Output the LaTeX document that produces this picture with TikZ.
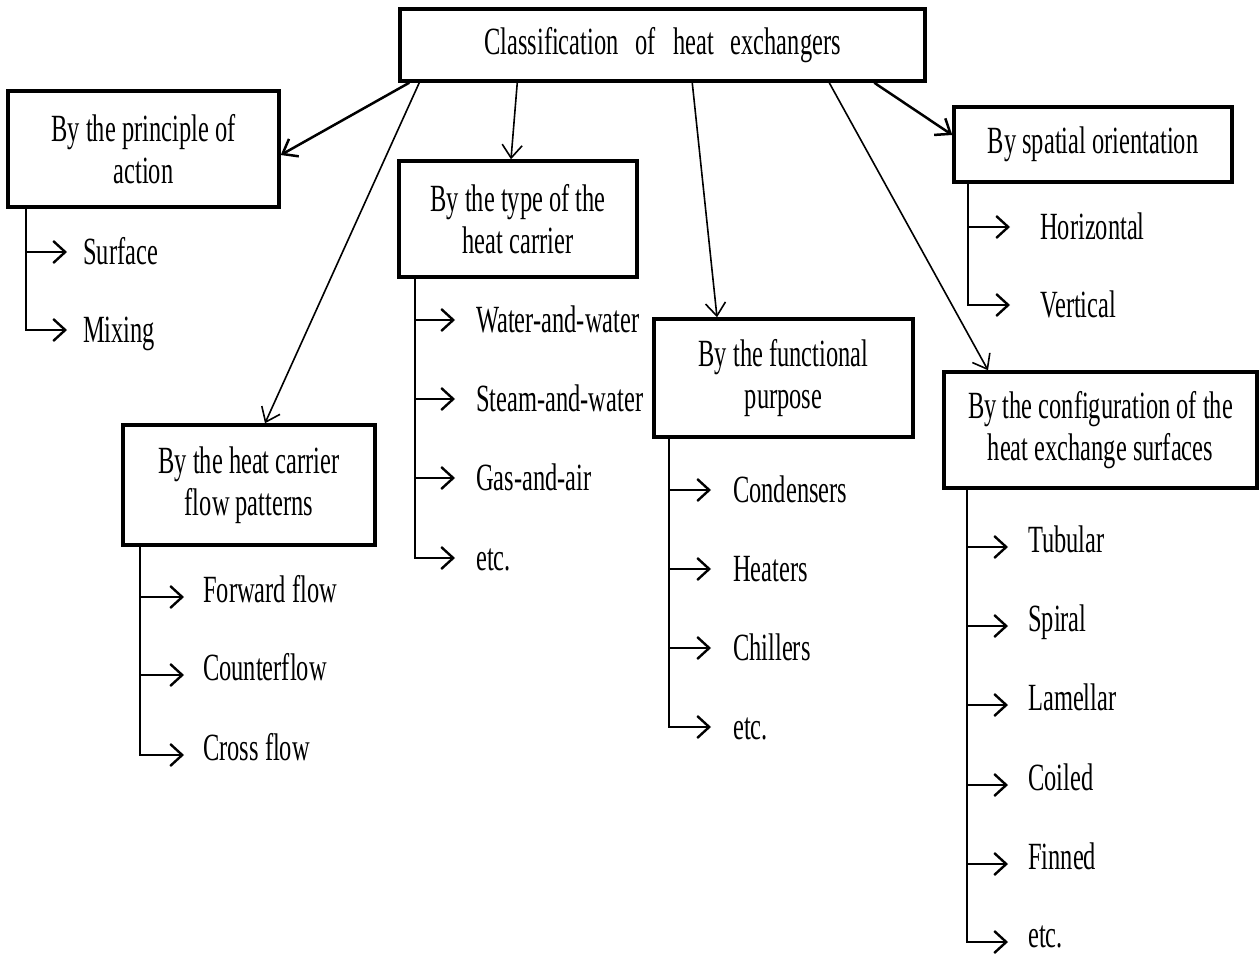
\documentclass[tikz,border=0pt]{standalone}
\usepackage{fontspec}
\setmainfont{Liberation Serif}[FakeStretch=0.635]
\usetikzlibrary{arrows.meta,calc}
\begin{document}
\begin{tikzpicture}[x=1pt,y=-1pt,
  box/.style={draw, line width=3.5pt, align=center, inner sep=0pt,
    font=\fontsize{38.5}{42}\selectfont},
  item/.style={anchor=west, inner sep=0pt, text height=25pt, text depth=0pt,
    font=\fontsize{38.5}{42}\selectfont},
  lowitem/.style={item, text height=11pt},
  conn/.style={line width=1.6pt, -{Straight Barb[length=13pt,width=20pt,line width=1.6pt]}},
  thickconn/.style={line width=2.5pt, -{Straight Barb[length=13pt,width=20pt,line width=2.5pt]}},
  itemarrow/.style={line width=2.4pt, -{Straight Barb[length=12pt,width=22pt,line width=2.4pt]}},
]
\useasboundingbox (0,0) rectangle (1260,955);

% boxes
\node[box, minimum width=525pt, minimum height=72pt] (root) at (662.5,45)
  {Classification\hspace{17pt}of\hspace{17pt}heat\hspace{17pt}exchangers};
\node[box, minimum width=271pt, minimum height=116pt] (A) at (143.5,149)
  {By the principle of\\action};
\node[box, minimum width=238pt, minimum height=116pt] (B) at (518,219)
  {By the type of the\\heat carrier};
\node[box, minimum width=252pt, minimum height=120pt] (C) at (249,485)
  {By the heat carrier\\flow patterns};
\node[box, minimum width=259pt, minimum height=118pt] (D) at (783.5,378)
  {By the functional\\purpose};
\node[box, minimum width=278pt, minimum height=75pt] (E) at (1093,144.5)
  {By spatial orientation};
\node[box, minimum width=313pt, minimum height=116pt] (F) at (1100.5,430)
  {By the configuration of the\\heat exchange surfaces};

% connectors from root
\draw[thickconn] ($(root.south west)+(11,0)$) -- ($(A.east)+(0,6)$);
\draw[conn] ($(root.south west)+(21,0)$) -- ($(C.north)+(16,0)$);
\draw[conn] ($(root.south west)+(119,0)$) -- ($(B.north)+(-7,0)$);
\draw[conn] ($(root.south west)+(294,0)$) -- ($(D.north)+(-66.5,0)$);
\draw[conn] ($(root.south west)+(431,0)$) -- ($(F.north)+(-112.5,0)$);
\draw[thickconn] ($(root.south west)+(476,0)$) -- ($(E.west)+(0,-9.5)$);

% group A
\coordinate (a0) at (26,207);
\node[item] (a1) at (83,252) {Surface};
\node[item] (a2) at (83,330) {Mixing};
\draw[itemarrow, shorten >=16pt] (a0) |- (a2.west);
\draw[itemarrow, shorten >=16pt] (a0 |- a1.west) -- (a1.west);

% group B
\coordinate (b0) at (415,277);
\node[item] (b1) at (476,320) {Water-and-water};
\node[item] (b2) at (476,399) {Steam-and-water};
\node[item] (b3) at (476,478) {Gas-and-air};
\node[item] (b4) at (476,558) {etc.};
\draw[itemarrow, shorten >=21pt] (b0) |- (b4.west);
\foreach \i in {1,2,3}
  \draw[itemarrow, shorten >=21pt] (b0 |- b\i.west) -- (b\i.west);

% group C
\coordinate (c0) at (140,545);
\node[lowitem] (c1) at (203,597) {Forward flow};
\node[lowitem] (c2) at (203,675) {Counterflow};
\node[lowitem] (c3) at (203,755) {Cross flow};
\draw[itemarrow, shorten >=19pt] (c0) |- (c3.west);
\foreach \i in {1,2}
  \draw[itemarrow, shorten >=19pt] (c0 |- c\i.west) -- (c\i.west);

% group D
\coordinate (d0) at (669,437);
\node[item] (d1) at (733,490) {Condensers};
\node[item] (d2) at (733,569) {Heaters};
\node[item] (d3) at (733,648) {Chillers};
\node[item] (d4) at (733,727) {etc.};
\draw[itemarrow, shorten >=22pt] (d0) |- (d4.west);
\foreach \i in {1,2,3}
  \draw[itemarrow, shorten >=22pt] (d0 |- d\i.west) -- (d\i.west);

% group E
\coordinate (e0) at (968,182);
\node[item] (e1) at (1040,227) {Horizontal};
\node[item] (e2) at (1040,305) {Vertical};
\draw[itemarrow, shorten >=30pt] (e0) |- (e2.west);
\draw[itemarrow, shorten >=30pt] (e0 |- e1.west) -- (e1.west);

% group F
\coordinate (f0) at (967,488);
\node[lowitem] (f1) at (1028,547) {Tubular};
\node[lowitem] (f2) at (1028,626) {Spiral};
\node[lowitem] (f3) at (1028,705) {Lamellar};
\node[lowitem] (f4) at (1028,785) {Coiled};
\node[lowitem] (f5) at (1028,864) {Finned};
\node[lowitem] (f6) at (1028,942) {etc.};
\draw[itemarrow, shorten >=20pt] (f0) |- (f6.west);
\foreach \i in {1,2,3,4,5}
  \draw[itemarrow, shorten >=20pt] (f0 |- f\i.west) -- (f\i.west);
\end{tikzpicture}
\end{document}
